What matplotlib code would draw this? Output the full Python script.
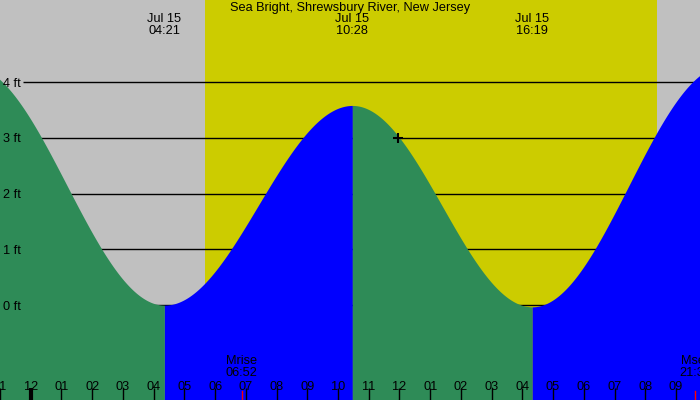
import numpy as np
import matplotlib
matplotlib.use("Agg")
import matplotlib.pyplot as plt
from matplotlib.transforms import blended_transform_factory

plt.rcParams['font.family'] = ['Liberation Sans', 'DejaVu Sans']
plt.rcParams['font.size'] = 9.2

# tide extremes, hours since midnight Jul 15
ext_hours = [-2.0, 4.35, 10.467, 16.317, 22.6]
ext_feet = [4.3, 0.0, 3.58, -0.03, 4.3]
ext_labels = ["", "04:21", "10:28", "16:19", ""]

sunrise = 5.67
sunset = 20.38
moon_hours = [6.867, 21.617]
moon_names = ["Mrise", "Mset"]
moon_times = ["06:52", "21:37"]

grid_feet = [0, 1, 2, 3, 4]
tick_hours = list(range(-1, 22))
marker_hour, marker_feet = 11.94, 3.0

title = "Sea Bright, Shrewsbury River, New Jersey"

xmin, xmax = -0.951, 21.78
ymin, ymax = -1.70, 5.47
gray, yellow = "#c0c0c0", "#cccc00"
falling, rising = "#2e8b57", "#0000ff"

fig = plt.figure(figsize=(7, 4), dpi=100)
ax = fig.add_axes([0, 0, 1, 1])
ax.set_facecolor(gray)
ax.set_xlim(xmin, xmax)
ax.set_ylim(ymin, ymax)
for s in ax.spines.values():
    s.set_visible(False)

ax.axvspan(sunrise, sunset, color=yellow, zorder=0, lw=0)

# gridlines behind the water
ax.hlines(grid_feet, -0.237, xmax, color="black", lw=1, zorder=1)
ax.plot([marker_hour], [marker_feet], marker="+", color="black", ms=7, mew=1.5, zorder=4)

# cosine-shaped curve between each pair of extremes
for i in range(len(ext_hours) - 1):
    t0, t1 = ext_hours[i], ext_hours[i + 1]
    h0, h1 = ext_feet[i], ext_feet[i + 1]
    t = np.linspace(t0, t1, 200)
    h = h0 + (h1 - h0) * (1 - np.cos(np.pi * (t - t0) / (t1 - t0))) / 2
    col = falling if h1 < h0 else rising
    ax.fill_between(t, ymin, h, color=col, lw=0, zorder=2)

trans = blended_transform_factory(ax.transData, ax.transAxes)
ax.text(0.5, 1 - 7.5 / 400, title, transform=ax.transAxes, ha="center", va="center", zorder=5)
for hr, lab in zip(ext_hours, ext_labels):
    if lab:
        ax.text(hr, 1 - 19.5 / 400, "Jul 15", transform=trans, ha="center", va="center", zorder=5)
        ax.text(hr, 1 - 31.5 / 400, lab, transform=trans, ha="center", va="center", zorder=5)

for hr, nm, tm in zip(moon_hours, moon_names, moon_times):
    ax.text(hr, 1 - 361.5 / 400, nm, transform=trans, ha="center", va="center", zorder=5)
    ax.text(hr, 1 - 373.5 / 400, tm, transform=trans, ha="center", va="center", zorder=5)
    ax.plot([hr, hr], [0, 9 / 400], transform=trans, color="red", lw=1, zorder=5)

ytrans = blended_transform_factory(ax.transAxes, ax.transData)
for f in grid_feet:
    ax.text(3 / 700, f, f"{f} ft", transform=ytrans, ha="left", va="center_baseline", zorder=5)

ax.set_xticks(tick_hours)
ax.set_xticklabels([f"{(h % 12) or 12:02d}" for h in tick_hours])
ax.set_yticks([])
ax.tick_params(axis="x", direction="in", length=9, width=1, color="black", pad=-14, labelsize=9.2)
ax.xaxis.set_zorder(6)
ax.xaxis.get_major_ticks()[tick_hours.index(0)].tick1line.set_markeredgewidth(3)

fig.savefig("out.png", dpi=100)
